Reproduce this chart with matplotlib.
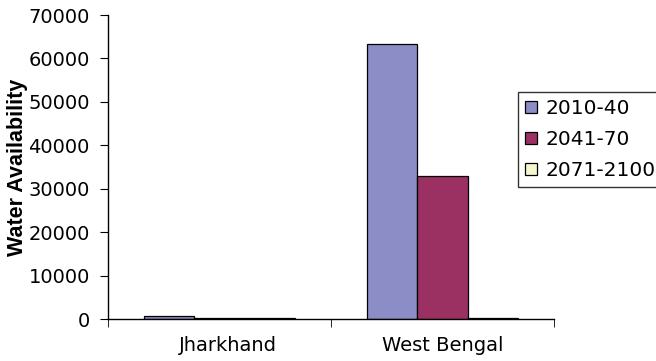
import numpy as np
import matplotlib.pyplot as plt
import matplotlib.transforms as mtransforms

plt.rcParams['font.family'] = ['DejaVu Sans']

states = ["Jharkhand", "West Bengal"]
periods = ["2010-40", "2041-70", "2071-2100"]
avail_2010_40 = [600, 63400]
avail_2041_70 = [300, 33000]
avail_2071_2100 = [300, 300]
colors = ["#8C8CC6", "#9B3163", "#F7F7CF"]
yticks = [0, 10000, 20000, 30000, 40000, 50000, 60000, 70000]

fig = plt.figure(figsize=(6.56, 3.61), dpi=100)
ax = fig.add_axes([0.1646, 0.1163, 0.680, 0.842])

x = np.arange(len(states))
w = 0.225
series = [avail_2010_40, avail_2041_70, avail_2071_2100]
for i, vals in enumerate(series):
    ax.bar(x + (i - 1) * w, vals, w, color=colors[i], edgecolor="black",
           linewidth=0.9, label=periods[i])

ax.set_xlim(-0.5, 1.5)
ax.set_ylim(0, 70000)
ax.set_yticks(yticks)
ax.set_yticklabels([str(t) for t in yticks], fontsize=14)
ax.set_xticks(x)
ax.set_xticklabels(states, fontsize=14)
ax.tick_params(axis="x", which="major", length=0, pad=12)
ax.set_xticks([-0.5, 0.5, 1.5], minor=True)
ax.tick_params(axis="x", which="minor", length=6, direction="out")
ax.tick_params(axis="y", length=6, direction="out", pad=7)

# nudge the first category label a little to the right
lbl = ax.get_xticklabels()[0]
lbl.set_transform(lbl.get_transform() +
                  mtransforms.ScaledTranslation(0.08, 0, fig.dpi_scale_trans))

for side in ["top", "right"]:
    ax.spines[side].set_visible(False)
ax.spines["left"].set_linewidth(1.0)
ax.spines["bottom"].set_linewidth(1.0)

ax.set_ylabel("Water Availability", fontsize=15.5, fontweight="bold",
              family="Liberation Sans", labelpad=0)

leg = ax.legend(loc="upper left", bbox_to_anchor=(0.919, 0.747), fontsize=14.5,
                frameon=True, fancybox=False, edgecolor="black",
                handlelength=0.6, handleheight=0.5, handletextpad=0.4,
                borderpad=0.35, labelspacing=0.6, borderaxespad=0.0)
leg.get_frame().set_linewidth(1.0)

fig.savefig("out.png", dpi=100)
